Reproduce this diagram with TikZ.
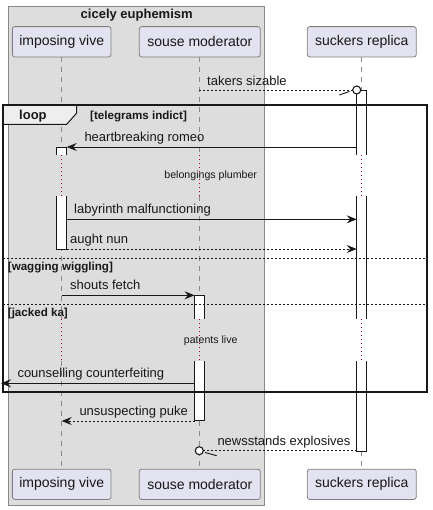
\documentclass[tikz,border=0pt]{standalone}
\usepackage{fontspec}
\setmainfont{Liberation Sans}
\usetikzlibrary{arrows.meta}
\definecolor{partfill}{HTML}{E2E2F0}
\definecolor{partdraw}{HTML}{7F7F7F}
\definecolor{grpfill}{HTML}{DDDDDD}
\definecolor{grpdraw}{HTML}{888888}
\definecolor{tabfill}{HTML}{EEEEEE}
\definecolor{lifegray}{HTML}{8A8A8A}
\definecolor{delayred}{HTML}{A80036}
\definecolor{ink}{HTML}{181818}
\tikzset{
  x=1pt,y=-1pt,
  participant/.style={draw=partdraw,fill=partfill,rounded corners=2.5pt,line width=0.8pt,
     minimum height=30.3pt,inner sep=0pt,font=\fontsize{14}{16}\selectfont,text=ink},
  lifeline/.style={draw=lifegray,line width=0.7pt,dash pattern=on 5pt off 5pt},
  delayline/.style={draw=delayred,line width=0.8pt,dash pattern=on 1pt off 3pt},
  actbox/.style={draw=ink,fill=white,line width=0.9pt},
  msg/.style={draw=ink,line width=0.9pt},
  reply/.style={draw=ink,line width=0.9pt,dash pattern=on 2pt off 2pt},
  tip/.style={-{Stealth[length=10pt,width=8pt,inset=3.5pt]}},
  msglabel/.style={anchor=base west,inner sep=0pt,font=\fontsize{13}{15}\selectfont,text=ink},
  delaylabel/.style={inner sep=0pt,font=\fontsize{10.6}{13}\selectfont,text=ink},
  condlabel/.style={anchor=base west,inner sep=0pt,font=\fontsize{11.6}{13}\selectfont\bfseries,text=ink},
  sep/.style={draw=ink,line width=0.8pt,dash pattern=on 2pt off 2pt},
}
\begin{document}
\begin{tikzpicture}
\useasboundingbox (0,0) rectangle (432,510);
% group box
\draw[fill=grpfill,draw=grpdraw,line width=0.8pt] (8.3,6) rectangle (264.3,505);
\node[font=\fontsize{13}{15}\selectfont\bfseries,text=ink] (grp) at (136.7,15) {cicely euphemism};
% participants
\node[participant,minimum width=98.7pt] (ivT) at (61.7,41.8) {imposing vive};
\node[participant,minimum width=121pt] (smT) at (199.8,41.8) {souse moderator};
\node[participant,minimum width=109pt] (srT) at (361.8,41.8) {suckers replica};
\node[participant,minimum width=98.7pt] (ivB) at (61.7,484.3) {imposing vive};
\node[participant,minimum width=121pt] (smB) at (199.8,484.3) {souse moderator};
\node[participant,minimum width=109pt] (srB) at (361.8,484.3) {suckers replica};
% lifelines
\foreach \p/\x in {iv/61.7,sm/199.3,sr/361.7}{
  \draw[lifeline] (\x,57) -- (\x,155.3);
  \draw[delayline] (\x,155.3) -- (\x,196);
  \draw[lifeline] (\x,196) -- (\x,319.3);
  \draw[delayline] (\x,319.3) -- (\x,361);
  \draw[lifeline] (\x,361) -- (\x,468.3);
}
% activations
\fill[white] (356.7,90) rectangle (366.7,155.3);
\draw[actbox] (356.7,155.3) -- (356.7,90) -- (366.7,90) -- (366.7,155.3);
\fill[white] (356.7,196) rectangle (366.7,319.3);
\draw[actbox] (356.7,196) -- (356.7,319.3) (366.7,196) -- (366.7,319.3);
\fill[white] (356.7,361) rectangle (366.7,451.7);
\draw[actbox] (356.7,361) -- (356.7,451.7) -- (366.7,451.7) -- (366.7,361);
\fill[white] (56.7,147) rectangle (66.7,155.3);
\draw[actbox] (56.7,155.3) -- (56.7,147) -- (66.7,147) -- (66.7,155.3);
\fill[white] (56.7,196) rectangle (66.7,249.3);
\draw[actbox] (56.7,196) -- (56.7,249.3) -- (66.7,249.3) -- (66.7,196);
\fill[white] (194.5,295.3) rectangle (204.3,319.3);
\draw[actbox] (194.5,319.3) -- (194.5,295.3) -- (204.3,295.3) -- (204.3,319.3);
\fill[white] (194.5,361) rectangle (204.3,420.7);
\draw[actbox] (194.5,361) -- (194.5,420.7) -- (204.3,420.7) -- (204.3,361);
% coordinates for messages
\coordinate (m1a) at (199.3,90);
\coordinate (m1b) at (352.7,90);
\coordinate (m1c) at (356.7,90);
\coordinate (m1s) at (339.3,95);
\coordinate (m1t) at (349.5,91.5);
\coordinate (m2a) at (356.7,147);
\coordinate (m2b) at (66.7,147);
\coordinate (m3a) at (66.7,219.3);
\coordinate (m3b) at (356.7,219.3);
\coordinate (m4a) at (66.7,249);
\coordinate (m4b) at (356.7,249);
\coordinate (m5a) at (61.7,295.3);
\coordinate (m5b) at (194.5,295.3);
\coordinate (m6a) at (194.5,383.3);
\coordinate (m6b) at (1,383.3);
\coordinate (m7a) at (194.5,421);
\coordinate (m7b) at (61.7,421);
\coordinate (m8a) at (356.7,450.7);
\coordinate (m8b) at (203.3,450.7);
\coordinate (m8c) at (199.3,450.7);
\coordinate (m8s) at (216.7,455.7);
\coordinate (m8t) at (205,452.5);
% message 1
\draw[reply] (m1a) -- (m1b);
\draw[msg] (m1s) -- (m1t);
\draw[ink,line width=1.1pt,fill=white] (m1c) circle (4pt);
\node[msglabel] (l1) at (207,85.5) {takers sizable};
% loop frame
\draw[ink,line width=1.8pt] (3.3,105.3) rectangle (427,391.7);
\draw[ink,line width=1pt,fill=tabfill] (3.3,105.3) -- (76.7,105.3) -- (76.7,113) -- (66.7,124.3) -- (3.3,124.3) -- cycle;
\node[anchor=base west,inner sep=0pt,font=\fontsize{13}{15}\selectfont\bfseries,text=ink] (loopl) at (19,119.5) {loop};
\node[condlabel] (c1) at (90,119.5) {[telegrams indict]};
% messages in loop
\draw[msg,tip] (m2a) -- (m2b);
\node[msglabel] (l2) at (84.3,141.5) {heartbreaking romeo};
\node[delaylabel] (d1) at (210.7,176) {belongings plumber};
\draw[msg,tip] (m3a) -- (m3b);
\node[msglabel] (l3) at (74,213.5) {labyrinth malfunctioning};
\draw[reply,tip] (m4a) -- (m4b);
\node[msglabel] (l4) at (70,243.5) {aught nun};
\draw[sep] (3.3,258.3) -- (427,258.3);
\node[condlabel] (c2) at (7.7,270.5) {[wagging wiggling]};
\draw[msg,tip] (m5a) -- (m5b);
\node[msglabel] (l5) at (70,289.5) {shouts fetch};
\draw[sep] (3.3,304.3) -- (427,304.3);
\node[condlabel] (c3) at (7.7,316.5) {[jacked ka]};
\node[delaylabel] (d2) at (210.7,341) {patents live};
\draw[msg,tip] (m6a) -- (m6b);
\node[msglabel] (l6) at (17.3,377.5) {counselling counterfeiting};
% after loop
\draw[reply,tip] (m7a) -- (m7b);
\node[msglabel] (l7) at (79.3,415) {unsuspecting puke};
\draw[reply] (m8a) -- (m8b);
\draw[msg] (m8t) -- (m8s);
\draw[ink,line width=1.1pt,fill=white] (m8c) circle (4pt);
\node[msglabel] (l8) at (217.3,445) {newsstands explosives};
\end{tikzpicture}
\end{document}
